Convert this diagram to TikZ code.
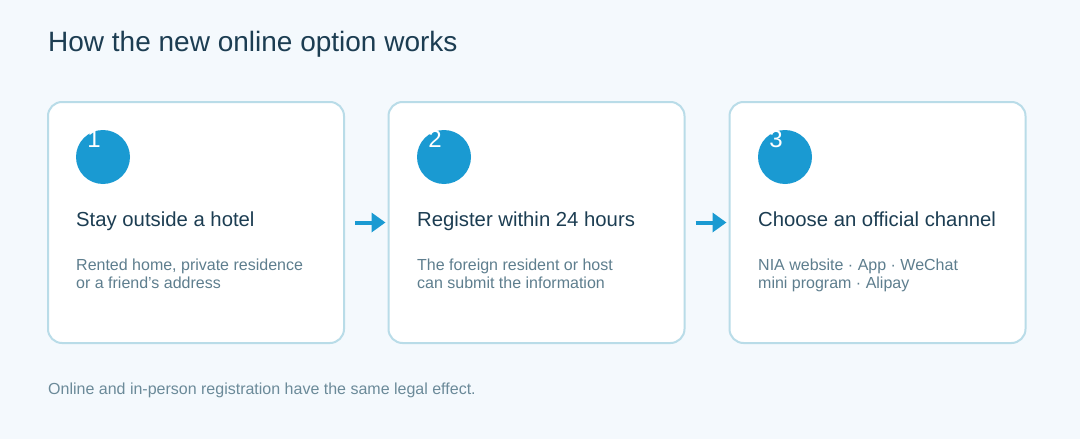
\documentclass[tikz,border=0pt]{standalone}
\usepackage{fontspec}
\setmainfont{Liberation Sans}
\usetikzlibrary{arrows.meta,positioning}

\definecolor{pagebg}{HTML}{F4F9FD}
\definecolor{cardline}{HTML}{B9DCE8}
\definecolor{stepblue}{HTML}{1A9AD2}
\definecolor{inkdark}{HTML}{1C3D52}
\definecolor{inkgray}{HTML}{5E7E8E}
\definecolor{inknote}{HTML}{6B8A99}

\begin{document}
\begin{tikzpicture}[x=1pt, y=-1pt,
    card/.style={draw=cardline, line width=2pt, fill=white, rounded corners=14pt,
        minimum width=296pt, minimum height=241pt, outer sep=0pt},
    badge/.style={circle, fill=stepblue, minimum size=54pt, inner sep=0pt},
    num/.style={anchor=base, text=white, font=\fontsize{24}{24}\selectfont, inner sep=0pt},
    steptitle/.style={anchor=base west, text=inkdark, font=\fontsize{20.3}{24}\selectfont, inner sep=0pt},
    stepbody/.style={anchor=base west, text=inkgray, align=left, inner sep=0pt,
        font=\fontsize{16}{18.5}\selectfont},
    flow/.style={-{Triangle[length=14pt,width=19pt]}, line width=4pt, stepblue,
        shorten <=11pt, shorten >=3pt}
]
\useasboundingbox[fill=pagebg] (0,0) rectangle (1080,439);

\node[anchor=base west, text=inkdark, inner sep=0pt, font=\fontsize{28}{32}\selectfont] (title) at (48,51) {How the new online option works};

% steps
\node[card] (c1) at (196,222.5) {};
\node[card] (c2) at (536.5,222.5) {};
\node[card] (c3) at (877.5,222.5) {};

\node[badge] (b1) at (103,157) {};
\node[badge] (b2) at (444,157) {};
\node[badge] (b3) at (785,157) {};
\node[num] (n1) at (94,147) {1};
\node[num] (n2) at (435,147) {2};
\node[num] (n3) at (776,147) {3};

\node[steptitle] (t1) at (76,226) {Stay outside a hotel};
\node[steptitle] (t2) at (417,226) {Register within 24 hours};
\node[steptitle] (t3) at (758,226) {Choose an official channel};

% base = last line here
\node[stepbody] (d1) at (76,288.5) {Rented home, private residence\\or a friend’s address};
\node[stepbody] (d2) at (417,288.5) {The foreign resident or host\\can submit the information};
\node[stepbody] (d3) at (758,288.5) {NIA website · App · WeChat\\mini program · Alipay};

\draw[flow] (c1) -- (c2);
\draw[flow] (c2) -- (c3);

\node[anchor=base west, text=inknote, inner sep=0pt, font=\fontsize{16}{18}\selectfont] (note) at (48,394) {Online and in-person registration have the same legal effect.};
\end{tikzpicture}
\end{document}
